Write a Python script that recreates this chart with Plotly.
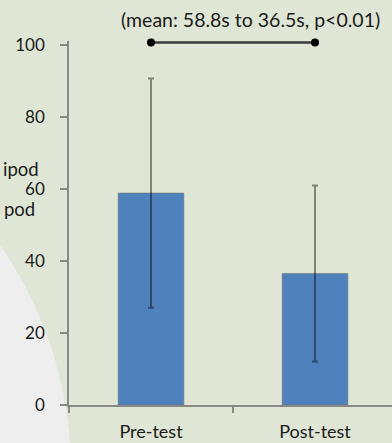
import plotly.graph_objects as go

# ---- data ----
categories = ["Pre-test", "Post-test"]
mean_times = [58.8, 36.5]
error_sd = [31.8, 24.4]
sig_level = [100.6, 100.6]
y_ticks = [0, 20, 40, 60, 80, 100]
title_text = "(mean: 58.8s to 36.5s, p<0.01)"
side_labels = ["ipod", "pod"]

W, H = 392, 443
L, R, T, B = 69, 0, 41, 38
Y_MAX = 101.0
pw, ph = W - L - R, H - T - B

def px_to_paper(px, py):
    return (px - L) / pw, (H - B - py) / ph

BG = "#dfe6d5"
FONT = "Lato"

fig = go.Figure()
fig.add_trace(go.Bar(
    x=categories, y=mean_times,
    marker=dict(color="#4f81bd", line=dict(color="rgba(110,120,110,0.6)", width=1)),
    error_y=dict(type="data", array=error_sd, visible=True,
                 color="rgba(0,0,0,0.43)", thickness=2, width=3),
    width=0.4,
))
fig.add_trace(go.Scatter(
    x=categories, y=sig_level, mode="lines+markers",
    line=dict(color="#3a3a3a", width=2.5),
    marker=dict(color="black", size=8),
    cliponaxis=False,
))

# gray circle in lower-left (slide decoration)
cx, cy, r = -324, 471, 395
x0, y0 = px_to_paper(cx - r, cy + r)
x1, y1 = px_to_paper(cx + r, cy - r)
fig.add_shape(type="circle", xref="paper", yref="paper",
              x0=x0, y0=y0, x1=x1, y1=y1,
              fillcolor="#eeeeee", line=dict(width=0), layer="below")

ax, ay = px_to_paper(250, 20)
fig.add_annotation(text=title_text, xref="paper", yref="paper", x=ax, y=ay,
                   showarrow=False, xanchor="center", yanchor="middle",
                   font=dict(family=FONT, size=19.5, color="#1a1a1a"))

for lbl, (lx, ly) in zip(side_labels, [(41, 169), (37, 209)]):
    px, py = px_to_paper(lx, ly)
    fig.add_annotation(text=lbl, xref="paper", yref="paper", x=px, y=py,
                       showarrow=False, xanchor="right", yanchor="middle",
                       font=dict(family=FONT, size=18.5, color="#1a1a1a"))

fig.update_layout(
    width=W, height=H,
    margin=dict(l=L, r=R, t=T, b=B, pad=0),
    paper_bgcolor=BG, plot_bgcolor="rgba(0,0,0,0)",
    showlegend=False,
    font=dict(family=FONT, color="#1a1a1a"),
    bargap=0.6,
)
fig.update_yaxes(range=[0, Y_MAX], tickvals=y_ticks, showgrid=False, zeroline=False,
                 showline=True, linecolor="#888888", linewidth=1.5,
                 ticks="outside", ticklen=7, tickcolor="#888888", tickwidth=1.5,
                 ticklabelstandoff=12, tickfont=dict(size=17, color="#1a1a1a"))
fig.update_xaxes(range=[-0.5, 1.4695], showgrid=False, zeroline=False,
                 showline=True, linecolor="#888888", linewidth=1.5,
                 ticks="outside", tickson="boundaries", ticklen=6,
                 tickcolor="#888888", tickwidth=1.5,
                 ticklabelstandoff=10,
                 tickfont=dict(size=18, color="#1a1a1a"))

fig.write_html("out.html")
